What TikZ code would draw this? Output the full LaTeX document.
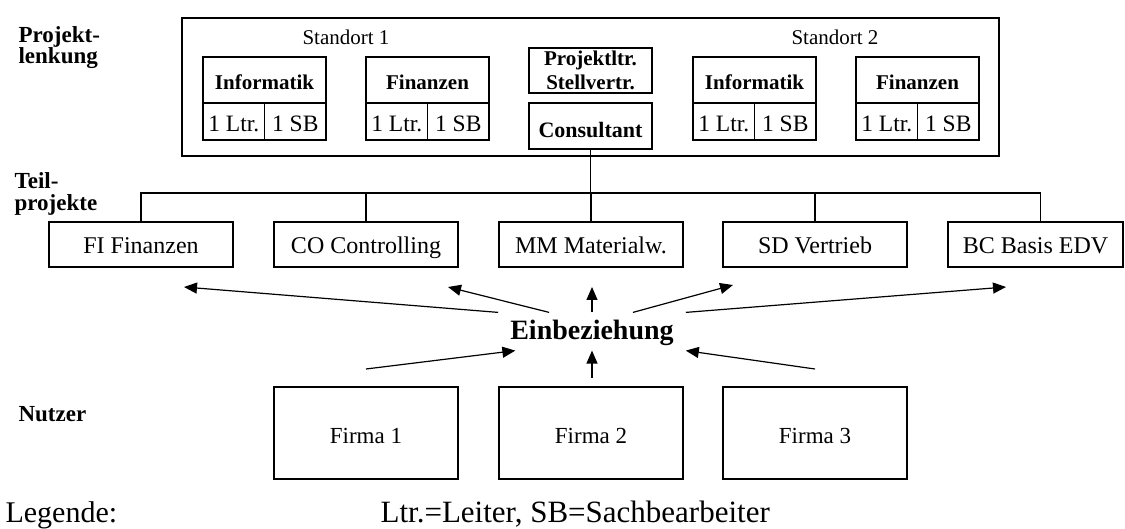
\documentclass[tikz,border=0pt]{standalone}
\usepackage{fontspec}
\setmainfont{Liberation Serif}
\usetikzlibrary{arrows.meta}

\tikzset{
	kasten/.style={draw, inner sep=0pt, outer sep=0pt, anchor=north west},
	titel/.style={font=\bfseries\fontsize{23}{21}\selectfont, inner sep=0pt, align=left, anchor=north west},
	pfeil/.style={-{Triangle[length=13pt,width=11pt]}},
}

\begin{document}
\begin{tikzpicture}[x=1pt, y=-1pt, line width=1.2pt]
	\useasboundingbox (0,0) rectangle (1125,529);
	\clip (0,0) rectangle (1125,529);

% Ebenen
	\node[titel] (lenk) at (18,26) {Projekt-\\lenkung};
	\node[titel, font=\bfseries\fontsize{23}{21.5}\selectfont] (teil) at (14,172) {Teil-\\projekte};
	\node[titel] (nutzer) at (18,406) {Nutzer};

% Projektlenkung
	\node[kasten, minimum width=817, minimum height=138] (lenkung) at (182,18) {};
	\node[anchor=base, font=\fontsize{21}{21}\selectfont] (standort1) at (346,45) {Standort 1};
	\node[anchor=base, font=\fontsize{21}{21}\selectfont] (standort2) at (835,45) {Standort 2};
	\foreach \x/\name/\titel in {203/inf1/Informatik, 366/fin1/Finanzen, 693/inf2/Informatik, 856/fin2/Finanzen} {
		\node[kasten, minimum width=123, minimum height=46, text height=20pt, text depth=0pt, font=\bfseries\fontsize{21}{21}\selectfont] (\name) at (\x,57) {\titel};
		\node[kasten, minimum width=61.5, minimum height=37, text height=21pt, text depth=0pt, font=\fontsize{23.5}{23.5}\selectfont] (\name-l) at (\name.south west) {1 Ltr.};
		\node[kasten, anchor=north east, minimum width=61.5, minimum height=37, text height=21pt, text depth=0pt, font=\fontsize{23.5}{23.5}\selectfont] (\name-s) at (\name.south east) {1 SB};
	}
	\node[kasten, minimum width=123, minimum height=45, align=center, font=\bfseries\fontsize{21}{24}\selectfont] (leitung) at (529,48) {Projektltr.\\Stellvertr.};
	\node[kasten, minimum width=123, minimum height=46, text height=24pt, text depth=0pt, font=\bfseries\fontsize{22}{22}\selectfont] (consultant) at (529,103) {Consultant};

% Teilprojekte
	\foreach \x/\w/\name/\titel in {49/184/fi/FI Finanzen, 274/184/co/CO Controlling, 499/184/mm/MM Materialw., 723/184/sd/SD Vertrieb, 948/175/bc/BC Basis EDV}
		\node[kasten, minimum width=\w, minimum height=45, text height=19pt, text depth=0pt, font=\fontsize{24}{24}\selectfont] (\name) at (\x,222) {\titel};
	\draw (fi.north) -- ++(0,-29) -| ([xshift=5pt]bc.north);
	\foreach \t in {co,mm,sd}
		\draw (\t.north) -- ++(0,-29);
	\draw (consultant.south) -- ++(0,44);

% Nutzer
	\foreach \x/\name/\titel in {274/f1/Firma 1, 499/f2/Firma 2, 723/f3/Firma 3}
		\node[kasten, minimum width=184, minimum height=92, text height=20pt, text depth=0pt, font=\fontsize{23}{23}\selectfont] (\name) at (\x,387) {\titel};

% Einbeziehung
	\node[anchor=base, font=\bfseries\fontsize{28}{28}\selectfont, text height=19pt, text depth=2pt, inner xsep=11.5pt, inner ysep=8pt] (einb) at (592,340) {Einbeziehung};
	\coordinate (p-fi) at (184,287);
	\coordinate (p-co) at (448,287);
	\coordinate (p-mm) at (592,287);
	\coordinate (p-sd) at (733,285);
	\coordinate (p-bc) at (1006,287);
	\draw[pfeil] (einb.north west) -- (p-fi);
	\draw[pfeil] (einb.156) -- (p-co);
	\draw[pfeil] (einb.north) -- (p-mm);
	\draw[pfeil] (einb.25) -- (p-sd);
	\draw[pfeil] (einb.north east) -- (p-bc);
	\coordinate (n-f1) at (366,369);
	\coordinate (n-f2) at (592,378);
	\coordinate (n-f3) at (815,369);
	\draw[pfeil] (n-f1) -- (einb.194);
	\draw[pfeil] (n-f2) -- (einb.south);
	\draw[pfeil] (n-f3) -- (einb.south east);

% Legende
	\node[anchor=base west, inner sep=0pt, font=\fontsize{30}{30}\selectfont] (legende) at (5,522) {Legende:};
	\node[anchor=base west, inner sep=0pt, font=\fontsize{31}{31}\selectfont] (erklaerung) at (380,522) {Ltr.=Leiter, SB=Sachbearbeiter};
\end{tikzpicture}
\end{document}
